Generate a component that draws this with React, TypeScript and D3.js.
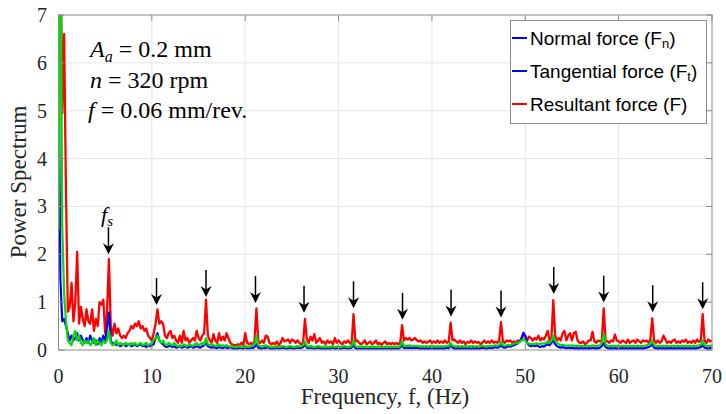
import React from "react";
import * as d3 from "d3";

const FREQ_STEP = 0.2; // Hz between samples

const redValues = [
  7.5, 9, 4.95, 6.6, 3.3,
  0.8, 0.9, 1.4, 0.6, 1.0,
  2.05, 0.55, 0.9, 0.65, 0.5,
  0.85, 0.6, 0.55, 0.85, 0.4,
  0.65, 0.5, 1.0, 0.95, 1.05,
  0.35, 0.8, 1.9, 0.5, 0.3,
  0.55, 0.35, 0.45, 0.3, 0.25,
  0.3, 0.25, 0.35, 0.4, 0.5,
  0.45, 0.55, 0.5, 0.6, 0.45,
  0.5, 0.4, 0.45, 0.3, 0.25,
  0.2, 0.35, 0.55, 0.85, 0.55,
  0.6, 0.55, 0.3, 0.25, 0.35,
  0.4, 0.25, 0.3, 0.2, 0.15,
  0.3, 0.15, 0.4, 0.2, 0.25,
  0.15, 0.2, 0.25, 0.2, 0.4,
  0.25, 0.2, 0.3, 0.35, 1.05,
  0.3, 0.2, 0.15, 0.33, 0.2,
  0.15, 0.35, 0.2, 0.28, 0.2,
  0.35, 0.25, 0.15, 0.12, 0.1,
  0.1, 0.12, 0.1, 0.15, 0.1,
  0.35, 0.15, 0.12, 0.15, 0.1,
  0.2, 0.87, 0.18, 0.15, 0.2,
  0.15, 0.3, 0.28, 0.15, 0.12,
  0.15, 0.12, 0.18, 0.1, 0.15,
  0.25, 0.18, 0.2, 0.22, 0.15,
  0.22, 0.2, 0.15, 0.2, 0.15,
  0.12, 0.15, 0.65, 0.22, 0.15,
  0.28, 0.2, 0.33, 0.15, 0.2,
  0.25, 0.15, 0.18, 0.12, 0.2,
  0.15, 0.18, 0.12, 0.25, 0.15,
  0.2, 0.15, 0.12, 0.18, 0.15,
  0.2, 0.15, 0.12, 0.75, 0.18,
  0.2, 0.15, 0.12, 0.15, 0.2,
  0.12, 0.15, 0.18, 0.12, 0.15,
  0.2, 0.12, 0.15, 0.1, 0.15,
  0.18, 0.12, 0.15, 0.12, 0.15,
  0.12, 0.15, 0.12, 0.15, 0.52,
  0.2, 0.25, 0.22, 0.25, 0.2,
  0.22, 0.25, 0.2, 0.18, 0.2,
  0.15, 0.18, 0.15, 0.17, 0.2,
  0.15, 0.18, 0.15, 0.2, 0.15,
  0.18, 0.15, 0.2, 0.15, 0.17,
  0.57, 0.2, 0.22, 0.18, 0.15,
  0.2, 0.15, 0.18, 0.12, 0.17,
  0.15, 0.2, 0.15, 0.18, 0.15,
  0.17, 0.12, 0.15, 0.2, 0.15,
  0.18, 0.15, 0.2, 0.15, 0.17,
  0.15, 0.2, 0.58, 0.18, 0.15,
  0.2, 0.18, 0.2, 0.15, 0.18,
  0.15, 0.2, 0.18, 0.22, 0.35,
  0.3, 0.2, 0.28, 0.25, 0.2,
  0.25, 0.22, 0.3, 0.2, 0.25,
  0.22, 0.3, 0.4, 0.2, 0.25,
  1.04, 0.3, 0.2, 0.25, 0.2,
  0.35, 0.4, 0.2, 0.3, 0.35,
  0.2, 0.35, 0.38, 0.2, 0.15,
  0.15, 0.18, 0.12, 0.15, 0.2,
  0.2, 0.38, 0.18, 0.15, 0.2,
  0.18, 0.2, 0.87, 0.2, 0.18,
  0.15, 0.2, 0.18, 0.32, 0.2,
  0.18, 0.15, 0.2, 0.17, 0.15,
  0.22, 0.15, 0.18, 0.2, 0.15,
  0.22, 0.18, 0.15, 0.2, 0.18,
  0.2, 0.15, 0.22, 0.66, 0.2,
  0.15, 0.2, 0.15, 0.18, 0.3,
  0.22, 0.15, 0.18, 0.15, 0.2,
  0.22, 0.15, 0.18, 0.15, 0.2,
  0.17, 0.22, 0.15, 0.18, 0.15,
  0.2, 0.15, 0.22, 0.17, 0.2,
  0.75, 0.2, 0.15, 0.22, 0.18,
  0.2,
];

const blueValues = [
  6.5, 1.5, 0.6, 0.65, 0.5,
  0.35, 0.2, 0.3, 0.2, 0.25,
  0.35, 0.2, 0.3, 0.2, 0.15,
  0.25, 0.15, 0.3, 0.2, 0.15,
  0.2, 0.12, 0.25, 0.15, 0.3,
  0.15, 0.5, 0.78, 0.2, 0.12,
  0.15, 0.1, 0.12, 0.08, 0.1,
  0.12, 0.08, 0.1, 0.12, 0.08,
  0.1, 0.12, 0.08, 0.1, 0.12,
  0.08, 0.1, 0.06, 0.1, 0.08,
  0.1, 0.12, 0.25, 0.35, 0.2,
  0.15, 0.12, 0.08, 0.06, 0.08,
  0.1, 0.06, 0.08, 0.05, 0.06,
  0.08, 0.05, 0.06, 0.08, 0.05,
  0.06, 0.08, 0.05, 0.06, 0.08,
  0.06, 0.05, 0.08, 0.1, 0.15,
  0.08, 0.06, 0.05, 0.06, 0.05,
  0.04, 0.06, 0.05, 0.04, 0.06,
  0.05, 0.04, 0.06, 0.04, 0.03,
  0.04, 0.03, 0.05, 0.04, 0.03,
  0.05, 0.04, 0.03, 0.05, 0.04,
  0.06, 0.12, 0.05, 0.04, 0.03,
  0.05, 0.04, 0.06, 0.04, 0.03,
  0.04, 0.03, 0.05, 0.03, 0.04,
  0.05, 0.04, 0.03, 0.04, 0.05,
  0.04, 0.03, 0.04, 0.05, 0.04,
  0.05, 0.06, 0.12, 0.05, 0.04,
  0.05, 0.04, 0.03, 0.04, 0.05,
  0.04, 0.03, 0.04, 0.03, 0.04,
  0.03, 0.04, 0.05, 0.03, 0.04,
  0.04, 0.03, 0.04, 0.05, 0.04,
  0.03, 0.04, 0.05, 0.1, 0.04,
  0.03, 0.04, 0.03, 0.04, 0.03,
  0.04, 0.03, 0.04, 0.03, 0.04,
  0.03, 0.04, 0.03, 0.04, 0.03,
  0.04, 0.03, 0.04, 0.03, 0.04,
  0.03, 0.04, 0.03, 0.05, 0.1,
  0.04, 0.05, 0.04, 0.05, 0.04,
  0.05, 0.04, 0.05, 0.04, 0.03,
  0.04, 0.03, 0.04, 0.03, 0.04,
  0.03, 0.04, 0.03, 0.04, 0.03,
  0.04, 0.03, 0.04, 0.05, 0.04,
  0.1, 0.05, 0.04, 0.03, 0.04,
  0.03, 0.04, 0.03, 0.04, 0.03,
  0.04, 0.03, 0.04, 0.03, 0.04,
  0.03, 0.04, 0.05, 0.04, 0.03,
  0.04, 0.05, 0.04, 0.05, 0.06,
  0.05, 0.06, 0.1, 0.06, 0.05,
  0.06, 0.08, 0.07, 0.09, 0.1,
  0.12, 0.14, 0.18, 0.25, 0.36,
  0.28, 0.15, 0.1, 0.08, 0.1,
  0.08, 0.1, 0.08, 0.06, 0.08,
  0.07, 0.1, 0.12, 0.1, 0.15,
  0.2, 0.12, 0.08, 0.06, 0.05,
  0.06, 0.05, 0.04, 0.05, 0.04,
  0.05, 0.04, 0.03, 0.04, 0.03,
  0.04, 0.03, 0.04, 0.03, 0.04,
  0.03, 0.05, 0.04, 0.03, 0.04,
  0.05, 0.08, 0.15, 0.06, 0.04,
  0.03, 0.04, 0.03, 0.04, 0.03,
  0.04, 0.03, 0.04, 0.03, 0.04,
  0.03, 0.04, 0.03, 0.04, 0.03,
  0.04, 0.03, 0.04, 0.03, 0.04,
  0.05, 0.06, 0.08, 0.12, 0.05,
  0.04, 0.03, 0.04, 0.03, 0.04,
  0.03, 0.04, 0.03, 0.04, 0.03,
  0.04, 0.03, 0.04, 0.03, 0.04,
  0.03, 0.04, 0.03, 0.04, 0.03,
  0.04, 0.03, 0.04, 0.05, 0.06,
  0.1, 0.05, 0.04, 0.03, 0.04,
  0.03,
];

const greenValues = [
  2.5, 9, 2.6, 1.2, 0.6,
  0.2, 0.15, 0.1, 0.3, 0.4,
  0.2, 0.3, 0.15, 0.1, 0.2,
  0.15, 0.2, 0.1, 0.15, 0.25,
  0.1, 0.2, 0.15, 0.1, 0.2,
  0.15, 0.2, 0.4, 0.15, 0.1,
  0.12, 0.2, 0.1, 0.15, 0.12,
  0.1, 0.15, 0.12, 0.1, 0.15,
  0.12, 0.15, 0.1, 0.12, 0.15,
  0.1, 0.12, 0.15, 0.1, 0.12,
  0.15, 0.2, 0.25, 0.3, 0.2,
  0.15, 0.2, 0.12, 0.1, 0.15,
  0.12, 0.1, 0.15, 0.1, 0.08,
  0.1, 0.08, 0.12, 0.1, 0.08,
  0.12, 0.1, 0.08, 0.12, 0.15,
  0.1, 0.12, 0.15, 0.12, 0.25,
  0.12, 0.1, 0.12, 0.1, 0.08,
  0.1, 0.12, 0.08, 0.1, 0.08,
  0.1, 0.08, 0.07, 0.08, 0.06,
  0.07, 0.06, 0.08, 0.06, 0.07,
  0.08, 0.07, 0.06, 0.08, 0.1,
  0.12, 0.3, 0.1, 0.08, 0.07,
  0.08, 0.1, 0.08, 0.07, 0.06,
  0.07, 0.06, 0.08, 0.06, 0.07,
  0.08, 0.07, 0.06, 0.07, 0.08,
  0.07, 0.06, 0.07, 0.08, 0.07,
  0.08, 0.1, 0.18, 0.08, 0.07,
  0.08, 0.07, 0.06, 0.07, 0.08,
  0.07, 0.06, 0.07, 0.06, 0.07,
  0.06, 0.07, 0.08, 0.06, 0.07,
  0.07, 0.06, 0.07, 0.08, 0.07,
  0.06, 0.07, 0.08, 0.2, 0.08,
  0.06, 0.07, 0.06, 0.07, 0.06,
  0.07, 0.06, 0.07, 0.06, 0.07,
  0.06, 0.07, 0.06, 0.07, 0.06,
  0.07, 0.06, 0.07, 0.06, 0.07,
  0.06, 0.07, 0.06, 0.08, 0.18,
  0.08, 0.09, 0.08, 0.1, 0.08,
  0.09, 0.08, 0.09, 0.08, 0.07,
  0.08, 0.07, 0.08, 0.07, 0.08,
  0.07, 0.08, 0.07, 0.08, 0.07,
  0.08, 0.07, 0.08, 0.09, 0.08,
  0.15, 0.09, 0.08, 0.07, 0.08,
  0.07, 0.08, 0.07, 0.08, 0.07,
  0.08, 0.07, 0.08, 0.07, 0.08,
  0.07, 0.08, 0.09, 0.08, 0.07,
  0.08, 0.09, 0.08, 0.09, 0.1,
  0.09, 0.1, 0.18, 0.1, 0.09,
  0.1, 0.11, 0.1, 0.12, 0.13,
  0.14, 0.15, 0.17, 0.2, 0.22,
  0.2, 0.15, 0.13, 0.12, 0.13,
  0.12, 0.14, 0.13, 0.12, 0.14,
  0.13, 0.15, 0.18, 0.15, 0.2,
  0.3, 0.2, 0.15, 0.12, 0.1,
  0.11, 0.1, 0.09, 0.1, 0.09,
  0.1, 0.09, 0.08, 0.09, 0.08,
  0.09, 0.08, 0.09, 0.08, 0.09,
  0.08, 0.1, 0.09, 0.08, 0.09,
  0.1, 0.15, 0.33, 0.12, 0.09,
  0.08, 0.09, 0.08, 0.09, 0.08,
  0.09, 0.08, 0.09, 0.08, 0.09,
  0.08, 0.09, 0.08, 0.09, 0.08,
  0.09, 0.08, 0.09, 0.08, 0.09,
  0.1, 0.11, 0.13, 0.2, 0.1,
  0.09, 0.08, 0.09, 0.08, 0.09,
  0.08, 0.09, 0.08, 0.09, 0.08,
  0.09, 0.08, 0.09, 0.08, 0.09,
  0.08, 0.09, 0.08, 0.09, 0.08,
  0.09, 0.08, 0.09, 0.1, 0.11,
  0.2, 0.1, 0.09, 0.08, 0.09,
  0.08,
];

// harmonic markers: frequency (Hz) and arrow-tip level (power units)
const arrowFreqs = [5.35, 10.5, 15.8, 21.1, 26.3, 31.6, 36.85, 42.05, 47.4, 53.05, 58.4, 63.65, 69.0];
const arrowTips = [2.0, 0.94, 1.11, 0.98, 0.78, 0.87, 0.63, 0.7, 0.68, 1.17, 0.99, 0.79, 0.85];

const xTicks = [0, 10, 20, 30, 40, 50, 60, 70];
const yTicks = [0, 1, 2, 3, 4, 5, 6, 7];

const legendLabels = [
  { main: "Normal force (F", sub: "n", color: "#0000ff" },
  { main: "Tangential force (F", sub: "t", color: "#0000ff" },
  { main: "Resultant force (F", sub: "", color: "#ff0000" },
];

const W = 726;
const H = 414;
const M = { left: 58.5, right: 712, top: 15, bottom: 350 };

const serif = "'Liberation Serif', 'Times New Roman', serif";
const sans = "'Liberation Sans', Arial, sans-serif";

export default function App() {
  const x = d3.scaleLinear().domain([0, 70]).range([M.left, M.right]);
  const y = d3.scaleLinear().domain([0, 7]).range([M.bottom, M.top]);

  const toPts = (vals: number[]) => vals.map((v, i) => [i * FREQ_STEP, v] as [number, number]);
  const line = d3
    .line<[number, number]>()
    .x((d) => x(d[0]))
    .y((d) => y(d[1]));

  const series = [
    { vals: redValues, color: "#ff0000", w: 2.3 },
    { vals: blueValues, color: "#0000ff", w: 2.2 },
    { vals: greenValues, color: "#00dd00", w: 2.2 },
  ];

  const arrowLen = 27;

  return (
    <svg
      width={W}
      height={H}
      style={{ position: "absolute", left: 0, top: 0, background: "#fff" }}
    >
      <defs>
        <clipPath id="plotClip">
          <rect x={M.left} y={M.top} width={M.right - M.left} height={M.bottom - M.top} />
        </clipPath>
      </defs>

      {/* grid */}
      <g stroke="#e6e6e6" strokeWidth={1}>
        {xTicks.slice(1, -1).map((t) => (
          <line key={"gx" + t} x1={x(t)} x2={x(t)} y1={M.top} y2={M.bottom} />
        ))}
        {yTicks.slice(1, -1).map((t) => (
          <line key={"gy" + t} x1={M.left} x2={M.right} y1={y(t)} y2={y(t)} />
        ))}
      </g>

      {/* data */}
      <g clipPath="url(#plotClip)" fill="none" strokeLinejoin="round">
        {series.map((s, k) => (
          <path key={k} d={line(toPts(s.vals)) || ""} stroke={s.color} strokeWidth={s.w} />
        ))}
      </g>

      {/* box and ticks */}
      <rect
        x={M.left}
        y={M.top}
        width={M.right - M.left}
        height={M.bottom - M.top}
        fill="none"
        stroke="#8c8c8c"
        strokeWidth={1}
      />
      <g stroke="#8c8c8c" strokeWidth={1}>
        {xTicks.map((t) => (
          <g key={"tx" + t}>
            <line x1={x(t)} x2={x(t)} y1={M.bottom} y2={M.bottom - 6} />
            <line x1={x(t)} x2={x(t)} y1={M.top} y2={M.top + 6} />
          </g>
        ))}
        {yTicks.map((t) => (
          <g key={"ty" + t}>
            <line x1={M.left} x2={M.left + 6} y1={y(t)} y2={y(t)} />
            <line x1={M.right} x2={M.right - 6} y1={y(t)} y2={y(t)} />
          </g>
        ))}
      </g>

      {/* tick labels */}
      <g fontFamily={serif} fontSize={20} fill="#262626">
        {xTicks.map((t) => (
          <text key={"lx" + t} x={x(t)} y={383} textAnchor="middle">
            {t}
          </text>
        ))}
        {yTicks.map((t) => (
          <text key={"ly" + t} x={47} y={y(t) + 7} textAnchor="end">
            {t}
          </text>
        ))}
      </g>

      {/* axis labels */}
      <text x={385} y={403.5} textAnchor="middle" fontFamily={serif} fontSize={23} fill="#262626">
        Frequency, f, (Hz)
      </text>
      <text
        transform={`translate(26,182) rotate(-90)`}
        textAnchor="middle"
        fontFamily={serif}
        fontSize={23}
        fill="#262626"
      >
        Power Spectrum
      </text>

      {/* arrows */}
      <g>
        {arrowFreqs.map((f, i) => {
          const ax = x(f);
          const tipY = y(arrowTips[i]);
          const topY = tipY - arrowLen;
          return (
            <g key={"ar" + i}>
              <line x1={ax} x2={ax} y1={topY} y2={tipY - 6} stroke="#000" strokeWidth={1.5} />
              <path
                d={`M${ax},${tipY} L${ax - 5.5},${tipY - 11} L${ax},${tipY - 7.5} L${ax + 5.5},${tipY - 11} Z`}
                fill="#000"
              />
            </g>
          );
        })}
      </g>

      {/* f_s label */}
      <text x={101} y={222} fontFamily={serif} fontSize={22} fontStyle="italic" fill="#000">
        f
        <tspan fontSize={15} dy={4}>
          s
        </tspan>
      </text>

      {/* parameters annotation */}
      <g fontFamily={serif} fontSize={24} fill="#000">
        <text x={90} y={57}>
          <tspan fontStyle="italic">A</tspan>
          <tspan fontStyle="italic" fontSize={16} dy={5}>
            a
          </tspan>
          <tspan dy={-5}> = 0.2 mm</tspan>
        </text>
        <text x={90} y={88}>
          <tspan fontStyle="italic">n</tspan>
          <tspan> = 320 rpm</tspan>
        </text>
        <text x={88} y={118}>
          <tspan fontStyle="italic">f</tspan>
          <tspan> = 0.06 mm/rev.</tspan>
        </text>
      </g>

      {/* legend */}
      <g>
        <rect x={510.5} y={20.5} width={196} height={103} fill="#fff" stroke="#8c8c8c" strokeWidth={1} />
        {legendLabels.map((l, i) => {
          const ly = 38 + i * 33;
          return (
            <g key={"lg" + i}>
              <line x1={512} x2={527} y1={ly} y2={ly} stroke={l.color} strokeWidth={2} />
              <text x={530} y={ly + 6.5} fontFamily={sans} fontSize={19} fill="#000">
                {l.main}
                {l.sub ? (
                  <tspan fontSize={13} dy={3}>
                    {l.sub}
                  </tspan>
                ) : null}
                <tspan dy={l.sub ? -3 : 0}>)</tspan>
              </text>
            </g>
          );
        })}
      </g>
    </svg>
  );
}
